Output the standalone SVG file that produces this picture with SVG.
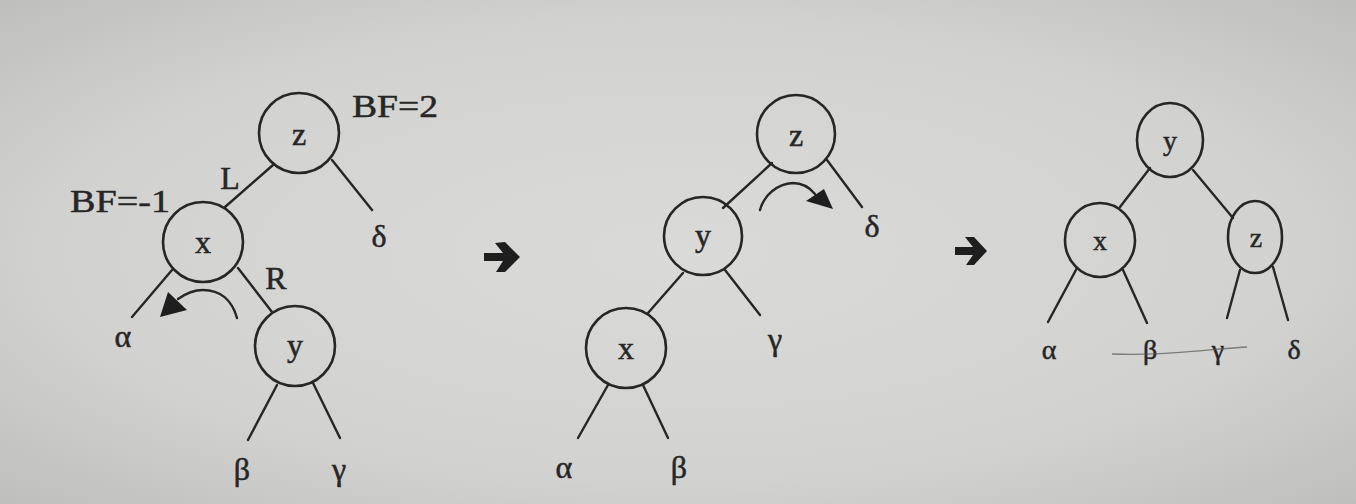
<svg xmlns="http://www.w3.org/2000/svg" width="1356" height="504" viewBox="0 0 1356 504">
<defs>
<radialGradient id="bg" cx="0.5" cy="0.5" r="0.75">
<stop offset="0" stop-color="#dadad8"/>
<stop offset="0.6" stop-color="#d2d2d0"/>
<stop offset="1" stop-color="#bbbbb9"/>
</radialGradient>
<style>
.n{fill:none;stroke:#262626;stroke-width:2.6}
.e{fill:none;stroke:#262626;stroke-width:2.4;stroke-linecap:round}
.t{font-family:"Liberation Serif","DejaVu Serif",serif;fill:#262626;stroke:#262626;stroke-width:0.5;text-anchor:middle}
.lbl{font-size:32px}
.sm{font-size:28px}
.hd{fill:#1e1e1e;stroke:none}
</style>
</defs>
<rect width="1356" height="504" fill="url(#bg)"/>

<!-- Tree 1 -->
<g id="t1-z"><circle class="n" cx="299" cy="133" r="40"/><text class="t lbl" x="299" y="145">z</text></g>
<g id="t1-x"><circle class="n" cx="203" cy="242" r="40"/><text class="t lbl" x="203" y="253">x</text></g>
<g id="t1-y"><circle class="n" cx="295" cy="346" r="40"/><text class="t lbl" x="295" y="356">y</text></g>
<g id="t1-labels">
<text class="t lbl" x="395" y="117" textLength="86" lengthAdjust="spacingAndGlyphs">BF=2</text>
<text class="t lbl" x="120" y="212" textLength="100" lengthAdjust="spacingAndGlyphs">BF=-1</text>
<text class="t lbl" x="230" y="189">L</text>
<text class="t lbl" x="276" y="289">R</text>
<text class="t lbl" x="379" y="247">δ</text>
<text class="t lbl" x="123" y="347">α</text>
<text class="t lbl" x="242" y="480">β</text>
<text class="t lbl" x="339" y="480">γ</text>
</g>

<!-- Tree 2 -->
<g id="t2-z"><circle class="n" cx="796" cy="134" r="39"/><text class="t lbl" x="796" y="146">z</text></g>
<g id="t2-y"><circle class="n" cx="703" cy="236" r="39"/><text class="t lbl" x="703" y="246">y</text></g>
<g id="t2-x"><circle class="n" cx="626" cy="348" r="40"/><text class="t lbl" x="626" y="359">x</text></g>
<g id="t2-labels">
<text class="t lbl" x="872" y="237">δ</text>
<text class="t lbl" x="775" y="350">γ</text>
<text class="t lbl" x="564" y="478">α</text>
<text class="t lbl" x="679" y="478">β</text>
</g>

<!-- Tree 3 -->
<g id="t3-y"><ellipse class="n" cx="1170" cy="140" rx="33" ry="37"/><text class="t sm" x="1170" y="150">y</text></g>
<g id="t3-x"><ellipse class="n" cx="1100" cy="240" rx="35" ry="37"/><text class="t sm" x="1100" y="250">x</text></g>
<g id="t3-z"><ellipse class="n" cx="1255" cy="237" rx="27" ry="36"/><text class="t sm" x="1256" y="247">z</text></g>
<g id="t3-labels">
<text class="t sm" x="1049" y="359">α</text>
<text class="t sm" x="1150" y="359">β</text>
<text class="t sm" x="1218" y="359">γ</text>
<text class="t sm" x="1294" y="359">δ</text>
</g>

<!-- step arrows -->
<g id="step-arrows">
<path class="hd" d="M484,253 L503,253 L495,243 L505,242 L520,257 L505,272 L496,272 L503,261 L484,261 Z"/>
<path class="hd" d="M955,247 L973,247 L965,237 L974,237 L987,251 L974,265 L966,265 L973,255 L955,255 Z"/>
</g>

<!-- connectors -->
<g id="connectors">
<line class="e" x1="273" y1="165" x2="225" y2="207"/>
<line class="e" x1="332" y1="160" x2="372" y2="210"/>
<line class="e" x1="172" y1="270" x2="132" y2="317"/>
<line class="e" x1="238" y1="268" x2="272" y2="312"/>
<line class="e" x1="277" y1="385" x2="248" y2="440"/>
<line class="e" x1="313" y1="383" x2="340" y2="438"/>
<path class="e" d="M237,318 C232,300 220,290 203,290 C192,290 185,294 178,299"/>
<path class="hd" d="M160,317 L168,292 L187,310 Z"/>

<line class="e" x1="772" y1="163" x2="723" y2="208"/>
<line class="e" x1="827" y1="160" x2="862" y2="207"/>
<line class="e" x1="683" y1="273" x2="648" y2="313"/>
<line class="e" x1="725" y1="270" x2="760" y2="315"/>
<line class="e" x1="608" y1="385" x2="578" y2="438"/>
<line class="e" x1="643" y1="385" x2="668" y2="438"/>
<path class="e" d="M760,210 C764,195 777,184 793,183 C803,183 810,188 815,194"/>
<path class="hd" d="M806,201 L824,189 L833,209 Z"/>

<line class="e" x1="1150" y1="168" x2="1120" y2="207"/>
<line class="e" x1="1193" y1="170" x2="1233" y2="218"/>
<line class="e" x1="1077" y1="268" x2="1048" y2="322"/>
<line class="e" x1="1123" y1="270" x2="1147" y2="323"/>
<line class="e" x1="1240" y1="270" x2="1227" y2="318"/>
<line class="e" x1="1273" y1="267" x2="1288" y2="320"/>
</g>

<!-- stray pencil mark -->
<path d="M1112,354 C1160,356 1200,350 1247,347" fill="none" stroke="#555" stroke-width="1.3" opacity="0.7"/>
</svg>
